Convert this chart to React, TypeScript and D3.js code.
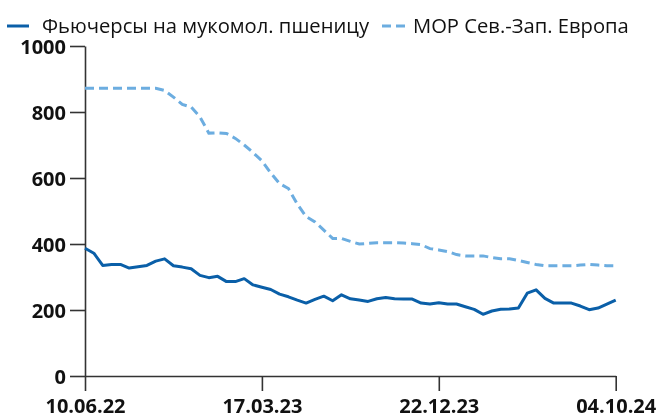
import { useRef, useEffect } from 'react'
import * as d3 from 'd3'

// Цены: фьючерсы на мукомольную пшеницу vs МОР Сев.-Зап. Европа (раз в две недели)
const futures = [
  387, 372, 335, 338, 338, 327, 331, 335, 348, 355,
  334, 330, 325, 305, 298, 302, 286, 286, 295, 276,
  269, 262, 248, 240, 230, 221, 232, 242, 228, 246,
  234, 230, 226, 234, 238, 234, 233, 233, 221, 218,
  222, 218, 218, 210, 202, 187, 197, 202, 203, 206,
  251, 261, 235, 221, 221, 221, 212, 201, 206, 218,
  230,
]
const morEurope = [
  872, 872, 872, 872, 872, 872, 872, 872, 872, 865,
  845, 823, 815, 785, 736, 737, 735, 720, 700, 677,
  652, 615, 583, 568, 521, 483, 467, 442, 417, 417,
  408, 400, 402, 404, 404, 404, 403, 401, 398, 386,
  382, 377, 368, 364, 364, 364, 359, 355, 355, 350,
  344, 338, 334, 334, 334, 334, 336, 338, 336, 334,
  334,
]
const xTickIdx = [0, 20, 40, 60]
const xTickLabels = ['10.06.22', '17.03.23', '22.12.23', '04.10.24']
const yTicks = [0, 200, 400, 600, 800, 1000]
const legendNames = ['Фьючерсы на мукомол. пшеницу', 'МОР Сев.-Зап. Европа']

const C_DARK = '#0a5fa8'
const C_LIGHT = '#6cade0'
const FONT = '"Open Sans", "DejaVu Sans", sans-serif'

export default function App() {
  const svgRef = useRef<SVGSVGElement>(null)

  useEffect(() => {
    const width = 664
    const height = 416
    const margin = { top: 46, right: 48, bottom: 40, left: 85 }

    const svg = d3.select(svgRef.current)
      .attr('width', width)
      .attr('height', height)
    svg.selectAll('*').remove()

    const x = d3.scaleLinear()
      .domain([0, futures.length - 1])
      .range([margin.left, width - margin.right - 0.3])
    const y = d3.scaleLinear()
      .domain([0, 1000])
      .range([height - margin.bottom, margin.top])

    // оси
    const yAxis = svg.append('g')
      .attr('transform', `translate(${margin.left},0)`)
      .call(d3.axisLeft(y)
        .tickValues(yTicks)
        .tickFormat(d3.format('d'))
        .tickSize(15)
        .tickSizeOuter(0)
        .tickPadding(4))
    const xAxis = svg.append('g')
      .attr('transform', `translate(0,${height - margin.bottom})`)
      .call(d3.axisBottom(x)
        .tickValues(xTickIdx)
        .tickSize(15)
        .tickSizeOuter(0)
        .tickPadding(6)
        .tickFormat((d, i) => xTickLabels[i]))

    for (const ax of [xAxis, yAxis]) {
      ax.select('.domain').attr('stroke', '#333').attr('stroke-width', 1.6)
      ax.selectAll('.tick line').attr('stroke', '#333').attr('stroke-width', 1.6)
      ax.selectAll('.tick text')
        .attr('fill', '#111')
        .attr('font-family', FONT)
        .attr('font-weight', 700)
        .attr('font-size', '20px')
    }
    yAxis.selectAll('.tick text').attr('dy', '0.36em')
    xAxis.selectAll('.tick text').attr('dy', '0.78em')

    const line = d3.line<number>()
      .x((d, i) => x(i))
      .y(d => y(d))

    svg.append('path')
      .datum(morEurope)
      .attr('fill', 'none')
      .attr('stroke', C_LIGHT)
      .attr('stroke-width', 3)
      .attr('stroke-dasharray', '9,5')
      .attr('d', line)

    svg.append('path')
      .datum(futures)
      .attr('fill', 'none')
      .attr('stroke', C_DARK)
      .attr('stroke-width', 3)
      .attr('stroke-linejoin', 'round')
      .attr('d', line)

    // легенда
    const leg = svg.append('g').attr('font-family', FONT).attr('font-size', '20.2px')
    const ly = 26
    leg.append('line')
      .attr('x1', 7).attr('x2', 29).attr('y1', ly).attr('y2', ly)
      .attr('stroke', C_DARK).attr('stroke-width', 3)
    leg.append('text')
      .attr('x', 42).attr('y', ly).attr('dy', '0.35em')
      .attr('fill', '#111')
      .text(legendNames[0])
    leg.append('line')
      .attr('x1', 382).attr('x2', 405).attr('y1', ly).attr('y2', ly)
      .attr('stroke', C_LIGHT).attr('stroke-width', 3)
      .attr('stroke-dasharray', '9,5')
    leg.append('text')
      .attr('x', 413).attr('y', ly).attr('dy', '0.35em')
      .attr('fill', '#111')
      .text(legendNames[1])
  }, [])

  return <svg ref={svgRef} style={{ position: 'fixed', left: 0, top: 0, display: 'block' }} />
}
